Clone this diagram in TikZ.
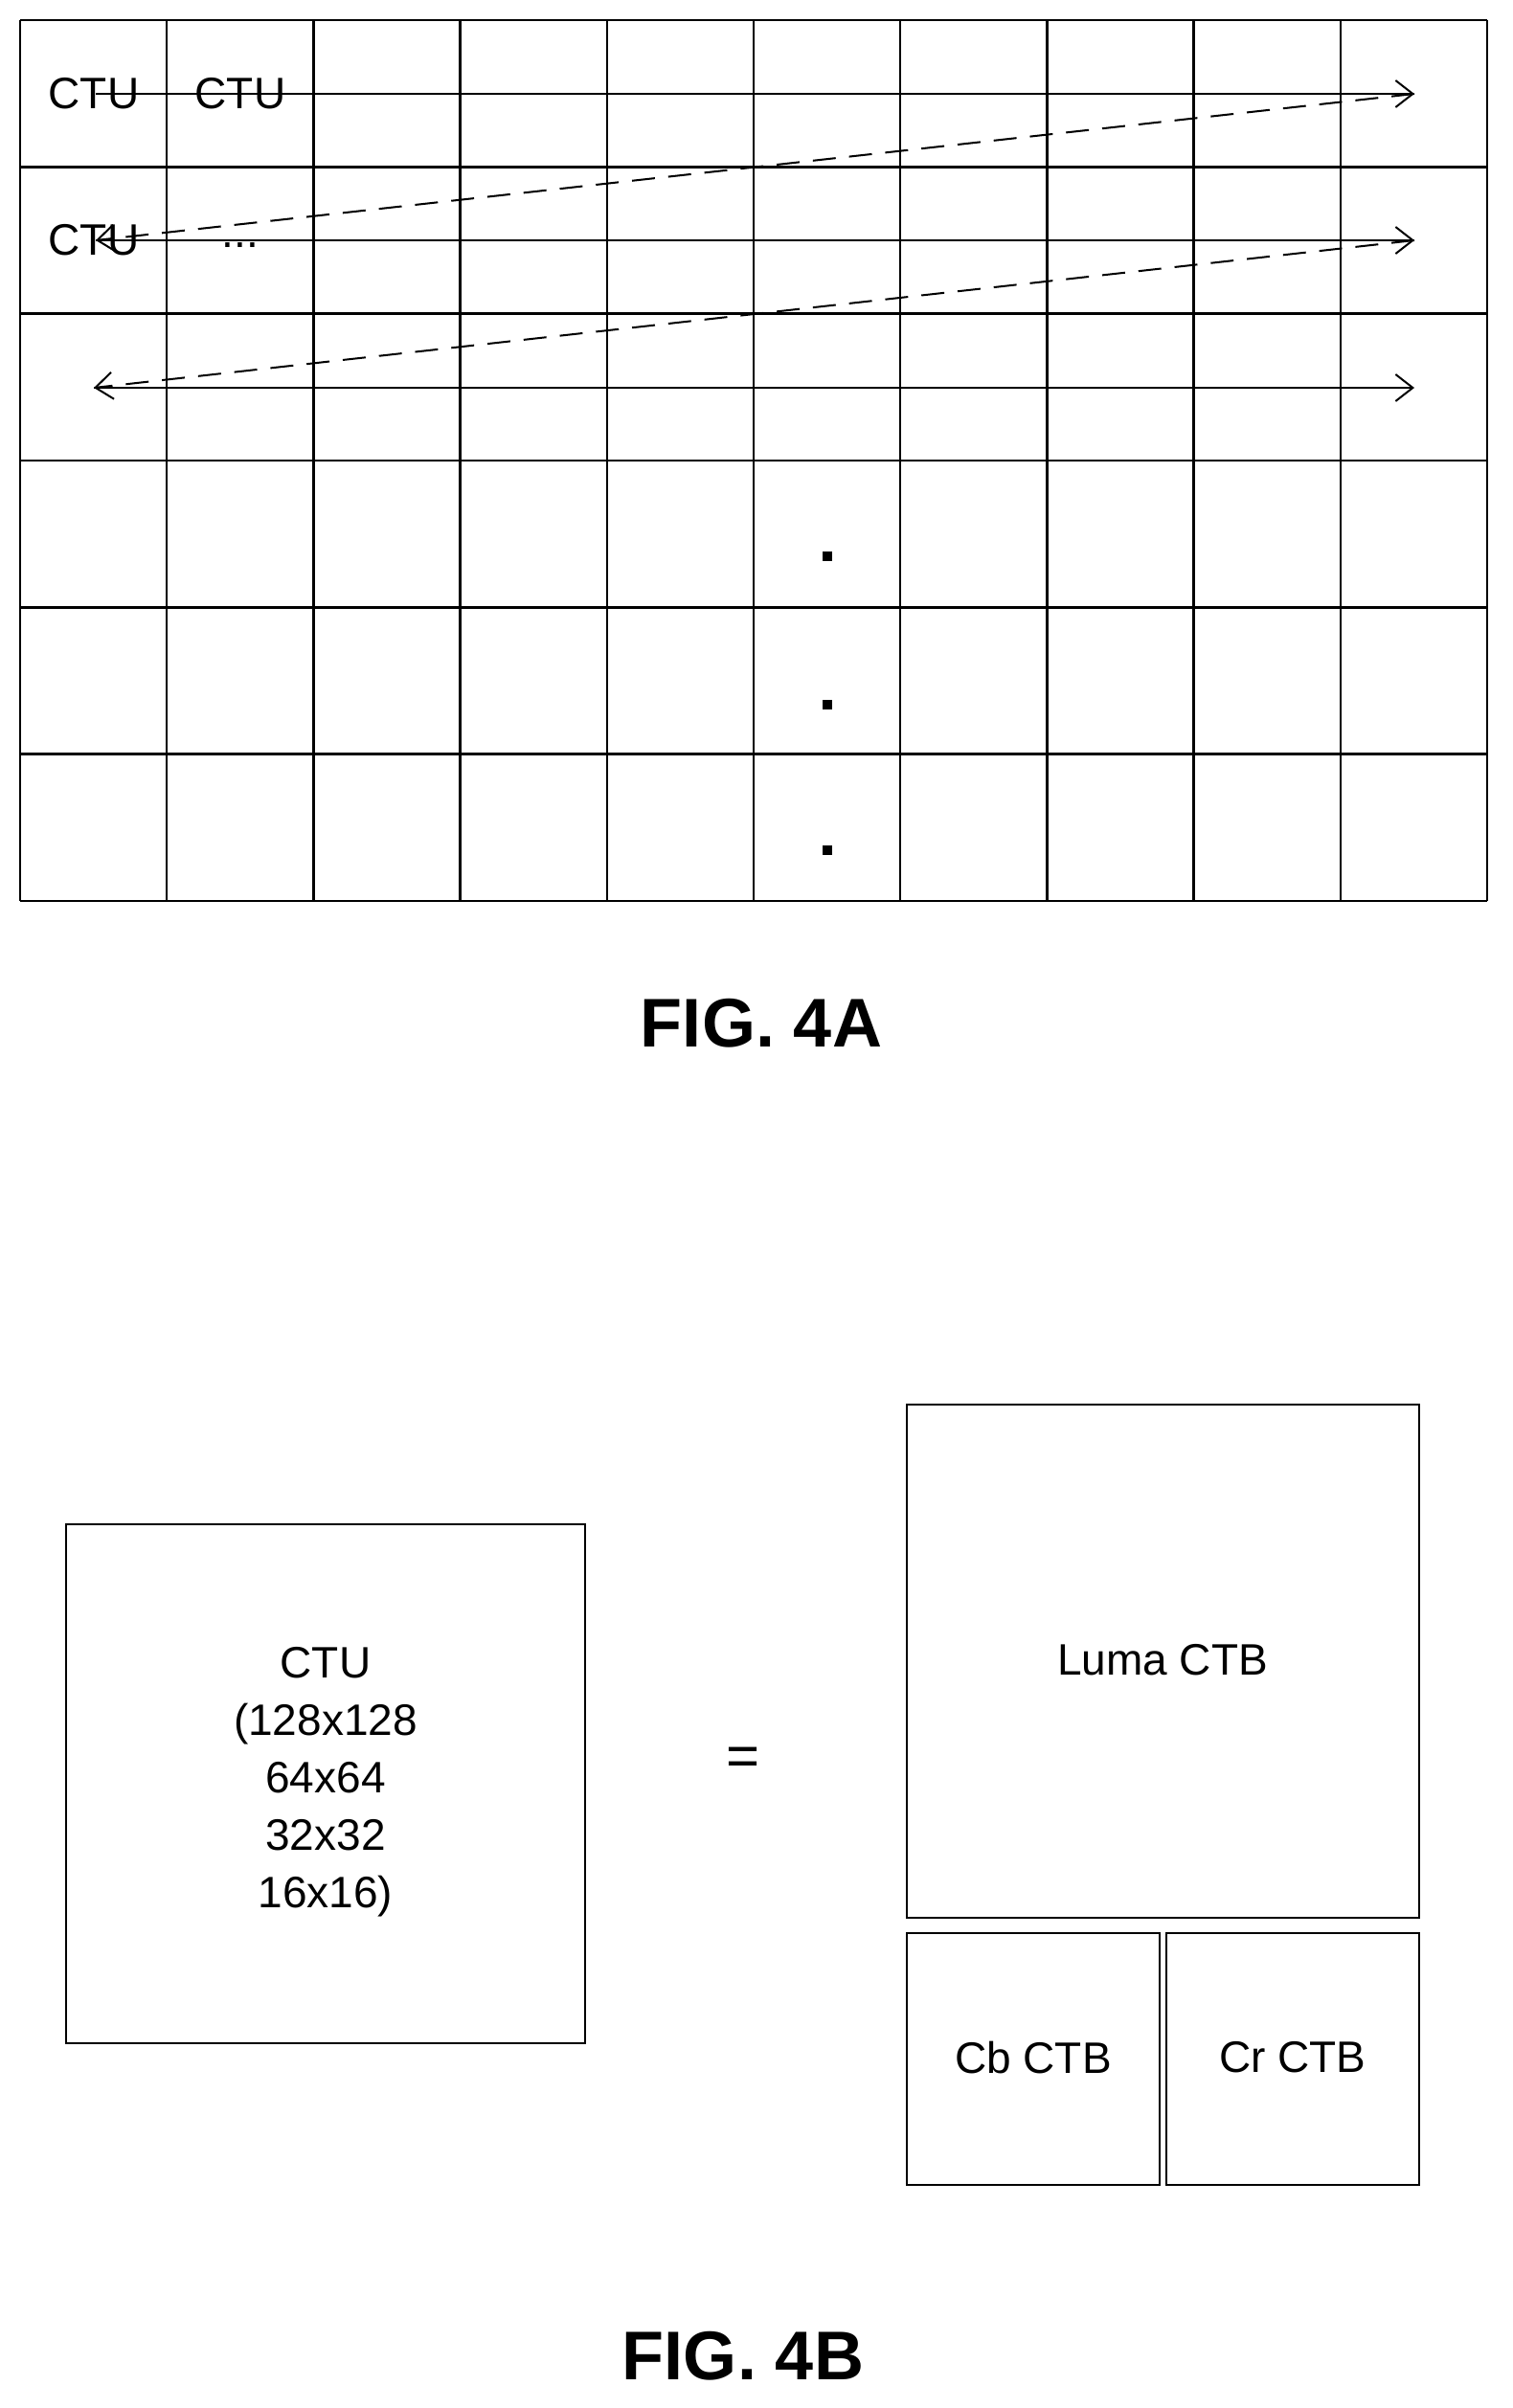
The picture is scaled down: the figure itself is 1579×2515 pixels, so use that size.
\documentclass[tikz,border=0pt]{standalone}
\usepackage{fontspec}
\setmainfont{Liberation Sans}
\usetikzlibrary{arrows.meta}
\begin{document}
\begin{tikzpicture}[x=0.5pt,y=-0.5pt,
  grid/.style={line width=1.2pt},
  flow/.style={line width=1pt,-{Straight Barb[length=9pt,width=14pt]}},
  back/.style={flow,dash pattern=on 12pt off 7pt},
  lbl/.style={font=\fontsize{23}{28}\selectfont,inner sep=0pt},
  fig/.style={font=\bfseries\fontsize{36}{40}\selectfont},
  box/.style={draw,line width=1.2pt}]
\useasboundingbox (0,0) rectangle (1579,2515);
% grid
\foreach \i in {0,...,10}{\draw[grid] (21+153.2*\i,21) -- (21+153.2*\i,941);}
\foreach \j in {0,...,6}{\draw[grid] (21,21+153.33*\j) -- (1553,21+153.33*\j);}
\node[lbl] (c11) at (98,98) {CTU};
\node[lbl] (c12) at (251,98) {CTU};
\node[lbl] (c21) at (98,251) {CTU};
\node[lbl] (c22) at (251,256) {...};
\coordinate (r1s) at (100,98); \coordinate (r1e) at (1477,98);
\coordinate (r2s) at (100,251); \coordinate (r2e) at (1477,251);
\coordinate (r3s) at (98,405); \coordinate (r3e) at (1477,405);
\draw[flow] (r1s) -- (r1e);
\draw[flow] (r2s) -- (r2e);
\draw[flow] (r3s) -- (r3e);
\draw[back] (r1e) -- (r2s);
\draw[back] (r2e) -- (r3s);
\foreach \y/\n in {581/d1,736/d2,888/d3}{\node[fill,minimum size=5pt,inner sep=0pt] (\n) at (864,\y) {};}
\node[fig] (f4a) at (795,1069) {FIG. 4A};
% 4B
\node[box,minimum width=271pt,minimum height=271pt] (ctu) at (340,1863) {};
\node[lbl,align=center,font=\fontsize{23}{30}\selectfont] (ctut) at (340,1861) {CTU\\(128x128\\64x64\\32x32\\16x16)};
\node[lbl,font=\fontsize{30}{30}\selectfont] (eq) at (776,1840) {=};
\draw[box] (947,1467) rectangle (1482,2003);
\node[lbl] (luma) at (1214,1734) {Luma CTB};
\draw[box] (947,2019) rectangle (1211,2282);
\node[lbl] (cb) at (1079,2149) {Cb CTB};
\draw[box] (1218,2019) rectangle (1482,2282);
\node[lbl] (cr) at (1350,2149) {Cr CTB};
\node[fig] (f4b) at (776,2461) {FIG. 4B};
\end{tikzpicture}
\end{document}
